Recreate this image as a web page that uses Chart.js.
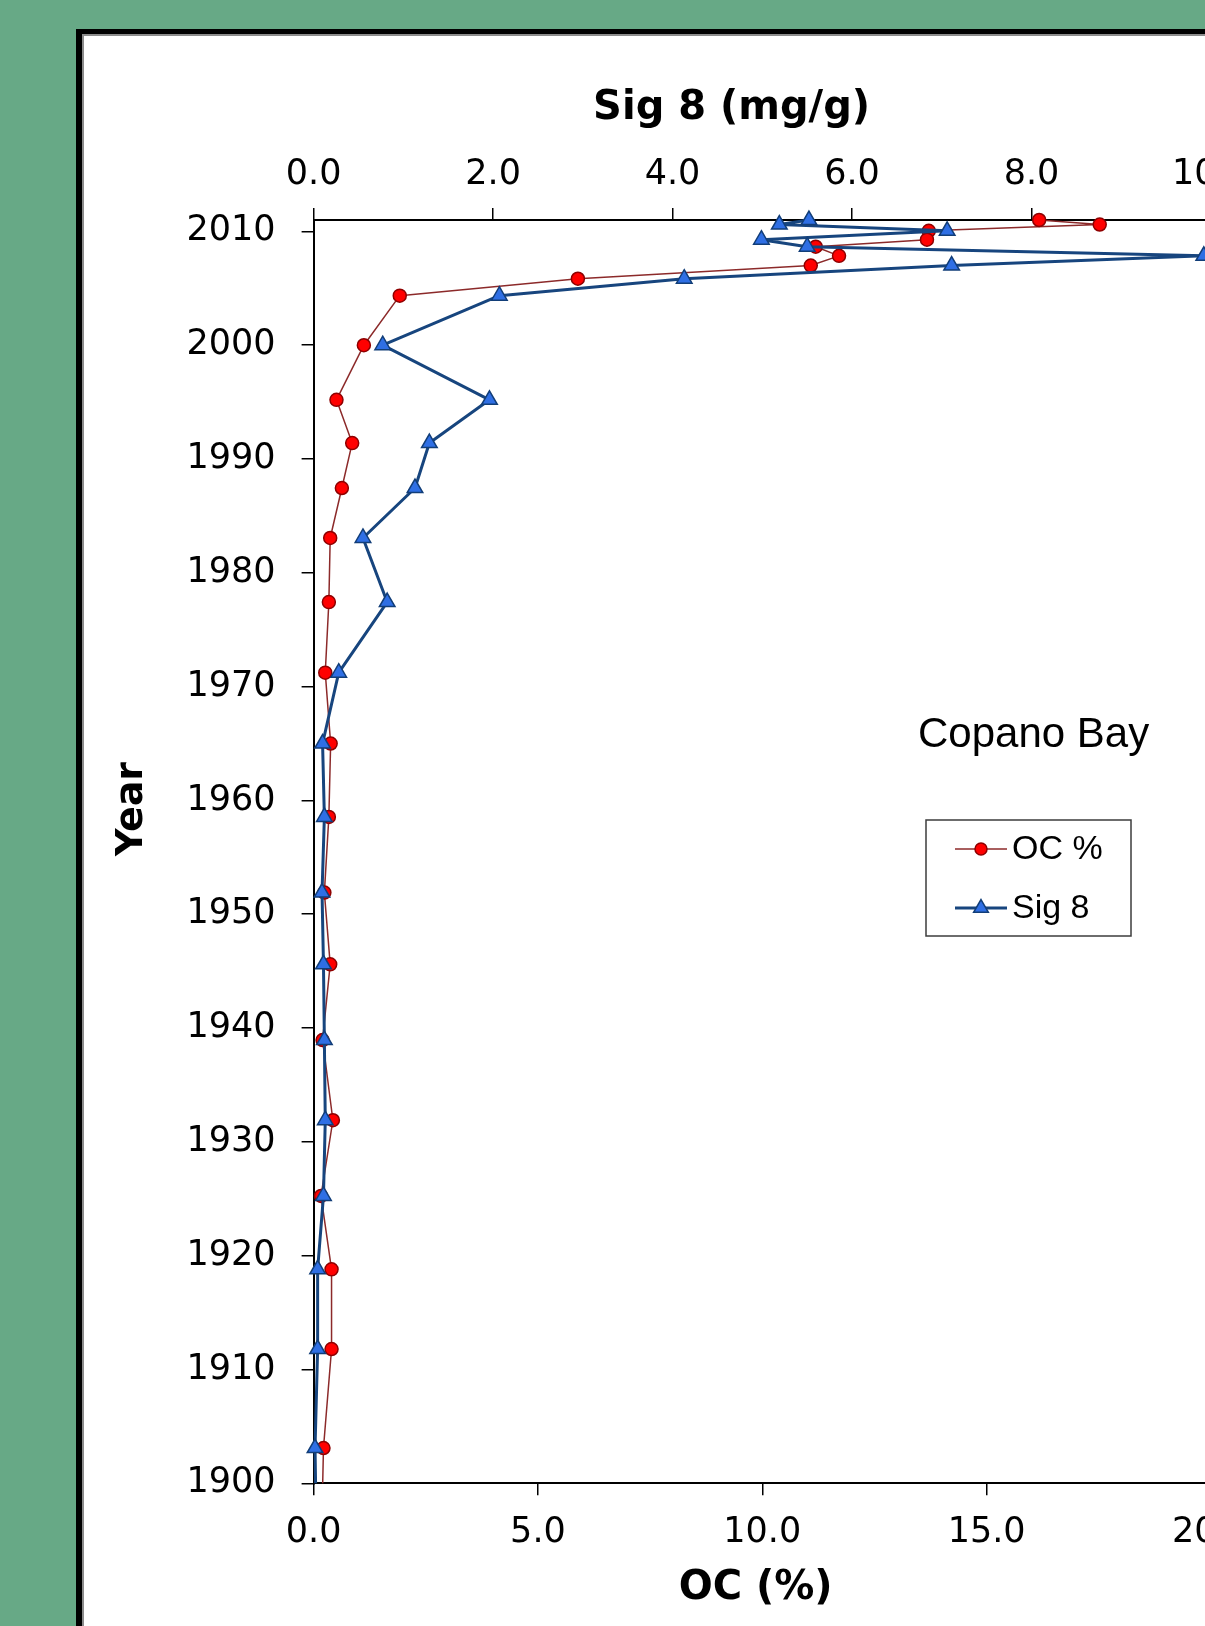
<!DOCTYPE html>
<html>
<head>
<meta charset="utf-8">
<script src="https://cdn.jsdelivr.net/npm/chart.js@4.4.1/dist/chart.umd.min.js"></script>
<style>
html, body { margin: 0; padding: 0; width: 1205px; height: 1626px; overflow: hidden; background: #67A986; }
#frame { position: absolute; left: 76px; top: 29px; width: 1400px; height: 1700px; background: #fff;
  border-left: 6px solid #000; border-top: 5px solid #000; box-shadow: inset 2px 2px 0 #8c8c8c; }
#c { position: absolute; left: 0; top: 0; }
</style>
</head>
<body>
<div id="frame"></div>
<canvas id="c" width="1300" height="1626"></canvas>
<script>
// ---- data ----
const years = [2011.0, 2010.6, 2010.05, 2009.27, 2008.65, 2007.85, 2007.0, 2005.84, 2004.35, 2000.0,
  1995.2, 1991.4, 1987.45, 1983.06, 1977.43, 1971.23, 1965.0, 1958.55, 1951.9, 1945.6,
  1938.95, 1931.9, 1925.25, 1918.8, 1911.8, 1903.1, 1896.0];
const ocPercent = [16.17, 17.52, 13.71, 13.67, 11.19, 11.71, 11.08, 5.89, 1.92, 1.12,
  0.51, 0.86, 0.63, 0.37, 0.34, 0.26, 0.38, 0.34, 0.24, 0.37,
  0.20, 0.43, 0.165, 0.40, 0.40, 0.22, 0.18];
const sig8 = [5.52, 5.19, 7.06, 4.99, 5.50, 9.92, 7.11, 4.13, 2.07, 0.77,
  1.96, 1.29, 1.13, 0.55, 0.82, 0.28, 0.10, 0.12, 0.094, 0.11,
  0.12, 0.13, 0.11, 0.045, 0.045, 0.016, 0.03];
const ocTicks = [0, 5, 10, 15, 20];
const sig8Ticks = [0, 2, 4, 6, 8, 10];
const yearTicks = [1900, 1910, 1920, 1930, 1940, 1950, 1960, 1970, 1980, 1990, 2000, 2010];
const seriesNames = ['OC %', 'Sig 8'];
const xTitle = 'OC (%)';
const x2Title = 'Sig 8 (mg/g)';
const yTitle = 'Year';
const siteLabel = 'Copano Bay';

// ---- styles ----
const RED_FILL = '#FF0000', RED_EDGE = '#8E0000', RED_LINE = '#8C2A2A';
const BLUE_FILL = '#2F6FE4', BLUE_EDGE = '#123E78', BLUE_LINE = '#17457E';
const tickFont = { family: 'DejaVu Sans', size: 35 };
const CIRCLE_R = 6.5, TRI_R = 9;

function axisCommon() {
  return {
    type: 'linear',
    border: { display: true, color: '#000', width: 2 },
    grid: { drawOnChartArea: false, drawTicks: true, tickLength: 12, color: '#000', lineWidth: 1.5 },
    ticks: { font: tickFont, color: '#000', maxRotation: 0, autoSkip: false }
  };
}

const xAxis = axisCommon();
Object.assign(xAxis, { position: 'bottom', min: ocTicks[0], max: ocTicks[ocTicks.length - 1] });
xAxis.ticks.padding = 17;
xAxis.ticks.callback = v => v.toFixed(1);
xAxis.afterBuildTicks = s => { s.ticks = ocTicks.map(v => ({ value: v })); };
xAxis.afterFit = s => { s.height = 1626 - 1483.3; };

const x2Axis = axisCommon();
Object.assign(x2Axis, { position: 'top', min: sig8Ticks[0], max: sig8Ticks[sig8Ticks.length - 1] });
x2Axis.ticks.padding = 12;
x2Axis.ticks.callback = v => v.toFixed(1);
x2Axis.afterBuildTicks = s => { s.ticks = sig8Ticks.map(v => ({ value: v })); };
x2Axis.afterFit = s => { s.height = 220; };

const yAxis = axisCommon();
Object.assign(yAxis, { position: 'left', min: 1900, max: 2011 });
yAxis.ticks.padding = 26;
yAxis.ticks.callback = v => String(v);
yAxis.afterBuildTicks = s => { s.ticks = yearTicks.map(v => ({ value: v })); };
yAxis.afterFit = s => { s.width = 313.6; };

const decorPlugin = {
  id: 'decor',
  afterDraw(chart) {
    const ctx = chart.ctx;
    const a = chart.chartArea;
    ctx.save();
    ctx.fillStyle = '#000';
    // axis titles
    ctx.font = 'bold 40px "DejaVu Sans"';
    ctx.textAlign = 'center';
    ctx.textBaseline = 'middle';
    ctx.fillText(x2Title, a.left + 418, 109);
    ctx.fillText(xTitle, a.left + 442, 1589);
    ctx.font = 'bold 38px "DejaVu Sans"';
    ctx.save();
    ctx.translate(132, 809);
    ctx.rotate(-Math.PI / 2);
    ctx.fillText(yTitle, 0, 0);
    ctx.restore();
    // site label
    ctx.font = '42px "Liberation Sans"';
    ctx.textAlign = 'left';
    ctx.textBaseline = 'alphabetic';
    ctx.fillText(siteLabel, 918, 747);
    // legend box
    const bx = 926, by = 820, bw = 205, bh = 116;
    ctx.fillStyle = '#fff';
    ctx.fillRect(bx, by, bw, bh);
    ctx.strokeStyle = '#3c3c3c';
    ctx.lineWidth = 1.5;
    ctx.strokeRect(bx, by, bw, bh);
    const rows = [
      { y: 849, line: RED_LINE, lw: 1.5, fill: RED_FILL, edge: RED_EDGE, style: 'circle', r: 6 },
      { y: 908, line: BLUE_LINE, lw: 3, fill: BLUE_FILL, edge: BLUE_EDGE, style: 'triangle', r: 8.5 }
    ];
    rows.forEach((row, i) => {
      ctx.strokeStyle = row.line;
      ctx.lineWidth = row.lw;
      ctx.beginPath();
      ctx.moveTo(955, row.y);
      ctx.lineTo(1007, row.y);
      ctx.stroke();
      ctx.fillStyle = row.fill;
      ctx.strokeStyle = row.edge;
      ctx.lineWidth = 1.5;
      Chart.helpers.drawPoint(ctx, { pointStyle: row.style, radius: row.r, rotation: 0, borderWidth: 1.5 }, 981, row.y);
      ctx.fillStyle = '#000';
      ctx.font = '34px "Liberation Sans"';
      ctx.textBaseline = 'middle';
      ctx.fillText(seriesNames[i], 1012, row.y + 1);
    });
    ctx.restore();
  }
};

new Chart(document.getElementById('c'), {
  type: 'scatter',
  data: {
    datasets: [
      {
        label: seriesNames[0],
        data: years.map((y, i) => ({ x: ocPercent[i], y })),
        xAxisID: 'x', yAxisID: 'y',
        showLine: true,
        borderColor: RED_LINE, borderWidth: 1.5, borderJoinStyle: 'round',
        pointStyle: 'circle', pointRadius: CIRCLE_R,
        pointBackgroundColor: RED_FILL, pointBorderColor: RED_EDGE, pointBorderWidth: 1.5,
        order: 2,
        clip: { left: 20, top: 20, right: 20, bottom: 0 }
      },
      {
        label: seriesNames[1],
        data: years.map((y, i) => ({ x: sig8[i], y })),
        xAxisID: 'x2', yAxisID: 'y',
        showLine: true,
        borderColor: BLUE_LINE, borderWidth: 3, borderJoinStyle: 'round',
        pointStyle: 'triangle', pointRadius: TRI_R,
        pointBackgroundColor: BLUE_FILL, pointBorderColor: BLUE_EDGE, pointBorderWidth: 1.5,
        order: 1,
        clip: { left: 20, top: 20, right: 20, bottom: 0 }
      }
    ]
  },
  options: {
    responsive: false,
    animation: false,
    devicePixelRatio: 1,
    layout: { padding: { left: 0, top: 0, right: 89, bottom: 0 } },
    plugins: { legend: { display: false }, tooltip: { enabled: false }, title: { display: false } },
    scales: { x: xAxis, x2: x2Axis, y: yAxis }
  },
  plugins: [decorPlugin]
});
</script>
</body>
</html>
